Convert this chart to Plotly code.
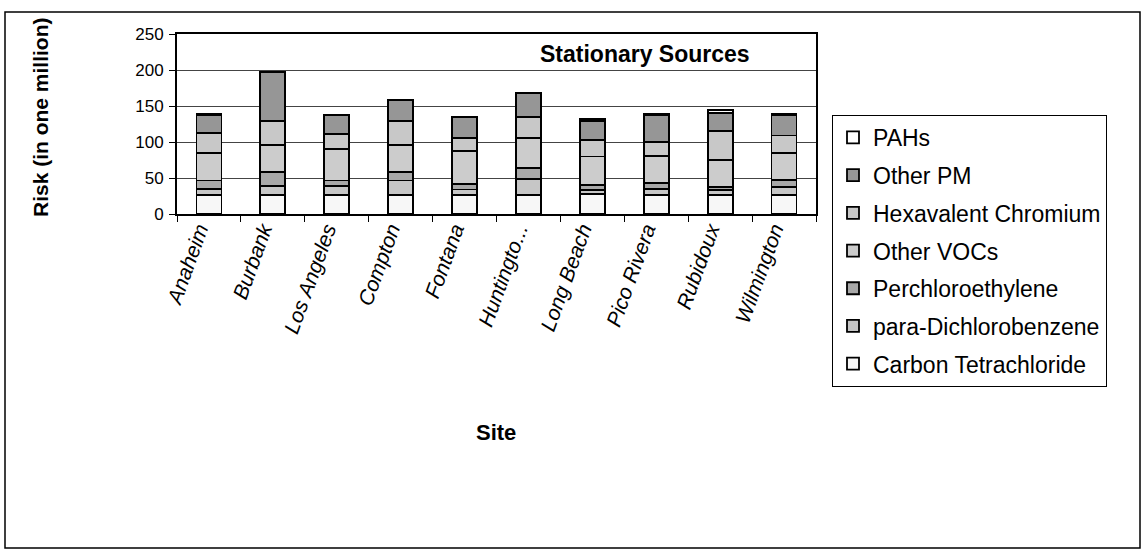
import plotly.graph_objects as go

sites = ["Anaheim", "Burbank", "Los Angeles", "Compton", "Fontana",
         "Huntingto...", "Long Beach", "Pico Rivera", "Rubidoux", "Wilmington"]

carbon_tet = [26, 26, 26, 26, 26, 26, 27.5, 26, 26, 26]
para_dcb = [9, 12.5, 12.5, 20.5, 8, 22.5, 6, 8.5, 7, 11.5]
perc = [11.5, 19.5, 8, 11.5, 7.5, 15.5, 7, 9, 5, 9.5]
other_vocs = [38.5, 38, 44, 38, 46, 41.5, 39.5, 37.5, 37.5, 38]
hex_cr = [27, 33.5, 21, 33.5, 18, 29, 23, 18.5, 39.5, 24]
other_pm = [26, 67.5, 26, 29, 28.5, 33, 26, 38.5, 25.5, 29]
pahs = [0.5, 0.5, 0.5, 0.5, 0.5, 0.5, 3.5, 0.5, 3.5, 0.5]

series_names = ["Carbon Tetrachloride", "para-Dichlorobenzene", "Perchloroethylene",
                "Other VOCs", "Hexavalent Chromium", "Other PM", "PAHs"]
series_values = [carbon_tet, para_dcb, perc, other_vocs, hex_cr, other_pm, pahs]
colors = ["#f7f7f7", "#c6c6c6", "#a8a8a8", "#cccccc", "#c8c8c8", "#969696", "#ffffff"]

FONT = "Liberation Sans, Arial, sans-serif"

fig = go.Figure()
n = len(series_names)
for i, (name, vals, col) in enumerate(zip(series_names, series_values, colors)):
    fig.add_trace(go.Bar(
        x=sites, y=vals, name=name, legendgroup=f"g{i}", legendrank=n - i,
        marker=dict(color=col, line=dict(color="black", width=1.8)),
        width=0.39,
    ))

# plot area in px: x 177..816, y 34..214
L, R, T, B = 177, 816, 34, 214
W, H = 1146, 555
def px(x):
    return (x - L) / (R - L)
def py(y):
    return (B - y) / (B - T)

fig.update_layout(
    width=W, height=H,
    margin=dict(l=L, r=W - R, t=T, b=H - B),
    barmode="stack",
    paper_bgcolor="white", plot_bgcolor="white",
    font=dict(family=FONT, color="black", size=16),
    showlegend=True,
    legend=dict(
        x=px(832), y=py(115), xanchor="left", yanchor="top",
        traceorder="grouped", tracegroupgap=4.8, maxheight=400,
        bgcolor="white", bordercolor="black", borderwidth=1,
        font=dict(family=FONT, size=23, color="black"),
    ),
    xaxis=dict(
        type="category", showline=True, linecolor="black", linewidth=2,
        mirror=True, ticks="outside", tickson="boundaries", ticklen=6,
        tickcolor="black", tickangle=-70,
        tickfont=dict(family=FONT, size=21, style="italic"),
        ticklabelstandoff=-7, ticklabelshift=-10,
        showgrid=False,
    ),
    yaxis=dict(
        range=[0, 250], dtick=50, showline=True, linecolor="black", linewidth=2,
        mirror=True, ticks="outside", ticklen=6, tickcolor="black",
        tickfont=dict(family=FONT, size=17), ticklabelstandoff=2,
        showgrid=True, gridcolor="#444444", gridwidth=1, zeroline=False,
    ),
    annotations=[
        dict(text="Stationary Sources", x=px(645), y=py(54), xref="paper", yref="paper",
             xanchor="center", yanchor="middle",
             showarrow=False, font=dict(family=FONT, size=23, weight="bold")),
        dict(text="Risk (in one million)", x=px(40), y=py(117), xref="paper", yref="paper",
             xanchor="center", yanchor="middle",
             showarrow=False, textangle=-90, font=dict(family=FONT, size=21, weight="bold")),
        dict(text="Site", x=px(496), y=py(432), xref="paper", yref="paper",
             xanchor="center", yanchor="middle",
             showarrow=False, font=dict(family=FONT, size=22, weight="bold")),
    ],
    shapes=[
        dict(type="rect", xref="paper", yref="paper",
             x0=px(5), x1=px(1140), y0=py(548), y1=py(12),
             line=dict(color="black", width=1.5), layer="below"),
    ],
)

fig.write_html("out.html", config={"displayModeBar": False},
               post_script="document.body.style.margin='0';")
